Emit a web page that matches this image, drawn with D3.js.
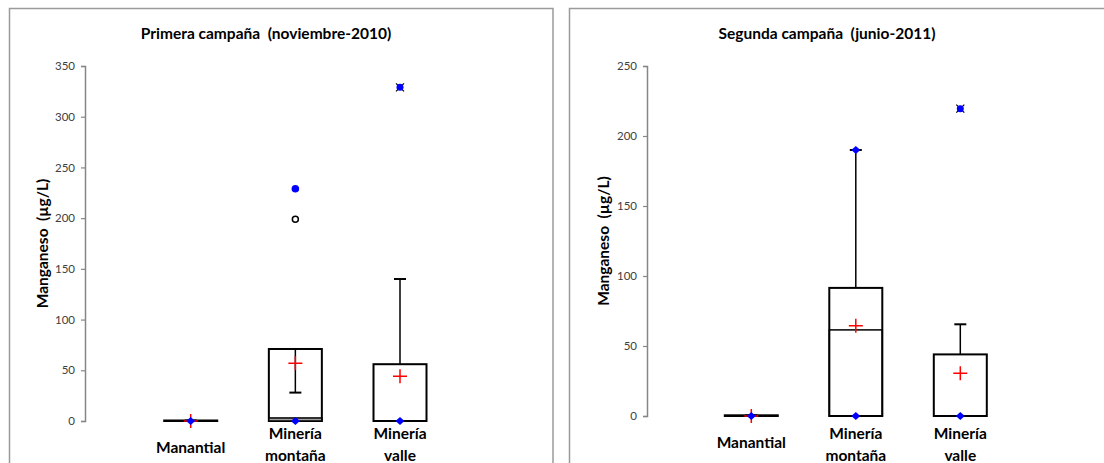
<!DOCTYPE html>
<html><head><meta charset="utf-8">
<script src="https://cdn.jsdelivr.net/npm/d3@7"></script>
<style>body{margin:0;background:#fff}svg{display:block}text{white-space:pre}</style>
</head><body>
<script>
// ---- data ----
const categories = ["Manantial", "Minería montaña", "Minería valle"];
const categoryLines = [["Manantial"], ["Minería", "montaña"], ["Minería", "valle"]];

// Panel 1: Primera campaña (noviembre-2010)
const p1Title = "Primera campaña  (noviembre-2010)";
const p1Ticks = [0, 50, 100, 150, 200, 250, 300, 350];
const p1Q1 = [0, 0, 0];
const p1Median = [0, 3, 0];
const p1Q3 = [0.5, 71, 56];
const p1Whisker = [0.5, 28, 140];
const p1Mean = [0, 57, 44];
const p1Diamonds = [[0], [0], [0]];
const p1Dots = [[], [229], []];
const p1Circles = [[], [199], []];
const p1Stars = [[], [], [329]];

// Panel 2: Segunda campaña (junio-2011)
const p2Title = "Segunda campaña  (junio-2011)";
const p2Ticks = [0, 50, 100, 150, 200, 250];
const p2Q1 = [0, 0, 0];
const p2Median = [0, 61.5, 0];
const p2Q3 = [0.5, 91.5, 44];
const p2Whisker = [0.5, 190, 65.5];
const p2Mean = [0, 64.5, 30.5];
const p2Diamonds = [[0], [0, 190], [0]];
const p2Dots = [[], [], []];
const p2Circles = [[], [], []];
const p2Stars = [[], [], [219.5]];

const yLabel = "Manganeso  (µg/L)";

// ---- drawing ----
const W = 1104, H = 463;
const svg = d3.select("body").append("svg").attr("width", W).attr("height", H);
const FONT = "Lato, 'Open Sans', sans-serif";

function panel(cfg) {
  const g = svg.append("g");
  g.append("rect").attr("x", cfg.frame[0]).attr("y", cfg.frame[1])
    .attr("width", cfg.frame[2]).attr("height", cfg.frame[3])
    .attr("fill", "#fff").attr("stroke", "#9a9a9a").attr("stroke-width", 1.5);

  const y = d3.scaleLinear().domain([0, cfg.ticks[cfg.ticks.length - 1]]).range(cfg.yRange);
  const x = d3.scalePoint().domain(categories).range(cfg.xRange);

  // title
  g.append("text").attr("x", cfg.titleX).attr("y", 38.5).attr("text-anchor", "middle")
    .attr("font-family", FONT).attr("font-weight", "bold").attr("font-size", 15.5)
    .attr("fill", "#000").text(cfg.title);

  // y axis
  const ax = g.append("g").attr("transform", `translate(${cfg.axisX},0)`)
    .call(d3.axisLeft(y).tickValues(cfg.ticks).tickSize(4).tickPadding(6).tickFormat(d3.format("d")));
  ax.select(".domain").attr("stroke", "#868686").attr("stroke-width", 1.5);
  ax.selectAll(".tick line").attr("stroke", "#868686").attr("stroke-width", 1.2);
  ax.selectAll(".tick text").attr("font-family", FONT).attr("font-size", 11.5).attr("fill", "#404040");

  // y label
  const ym = (cfg.yRange[0] + cfg.yRange[1]) / 2;
  g.append("text").attr("transform", `translate(${cfg.yLabelX},${ym}) rotate(-90)`)
    .attr("text-anchor", "middle").attr("dy", "0.35em")
    .attr("font-family", FONT).attr("font-weight", "bold").attr("font-size", 15.5)
    .attr("fill", "#000").text(yLabel);

  const bw = 53;
  categories.forEach((c, i) => {
    const cx = x(c);
    // whisker
    g.append("line").attr("x1", cx).attr("x2", cx)
      .attr("y1", y(cfg.q3[i])).attr("y2", y(cfg.whisker[i]))
      .attr("stroke", "#000").attr("stroke-width", 1.5);
    g.append("line").attr("x1", cx - 6).attr("x2", cx + 6)
      .attr("y1", y(cfg.whisker[i])).attr("y2", y(cfg.whisker[i]))
      .attr("stroke", "#000").attr("stroke-width", 2);
    // box
    g.append("rect").attr("x", cx - bw / 2).attr("y", y(cfg.q3[i]))
      .attr("width", bw).attr("height", Math.max(0, y(cfg.q1[i]) - y(cfg.q3[i])))
      .attr("fill", "none").attr("stroke", "#000").attr("stroke-width", 2);
    // median
    if (cfg.median[i] > cfg.q1[i]) {
      g.append("rect").attr("x", cx - bw / 2).attr("y", y(cfg.median[i]))
        .attr("width", bw).attr("height", y(cfg.q1[i]) - y(cfg.median[i]))
        .attr("fill", cfg.median[i] < 10 ? "#a0a0a0" : "none")
        .attr("stroke", "#000").attr("stroke-width", 1.5);
    }
    // mean (red plus)
    const my = y(cfg.mean[i]);
    g.append("path").attr("d", `M${cx - 7},${my}H${cx + 7}M${cx},${my - 7}V${my + 7}`)
      .attr("stroke", "#ff0000").attr("stroke-width", 1.5);
    // diamonds
    cfg.diamonds[i].forEach(v => {
      const dy = y(v);
      g.append("path").attr("d", `M${cx - 4.5},${dy}L${cx},${dy - 4}L${cx + 4.5},${dy}L${cx},${dy + 4}Z`)
        .attr("fill", "#0000ff");
    });
    cfg.dots[i].forEach(v => {
      g.append("circle").attr("cx", cx).attr("cy", y(v)).attr("r", 3.8).attr("fill", "#0000ff");
    });
    cfg.circles[i].forEach(v => {
      g.append("circle").attr("cx", cx).attr("cy", y(v)).attr("r", 3).attr("fill", "#fff")
        .attr("stroke", "#000").attr("stroke-width", 1.5);
    });
    cfg.stars[i].forEach(v => {
      const sy = y(v);
      g.append("path").attr("d", `M${cx - 4},${sy - 4}L${cx + 4},${sy + 4}M${cx - 4},${sy + 4}L${cx + 4},${sy - 4}`)
        .attr("stroke", "#000").attr("stroke-width", 1.2);
      g.append("circle").attr("cx", cx).attr("cy", sy).attr("r", 3.5).attr("fill", "#0000ff");
    });
    // category label
    const lines = categoryLines[i];
    const t = g.append("text").attr("text-anchor", "middle").attr("font-family", FONT)
      .attr("font-weight", "bold").attr("font-size", 15.5).attr("fill", "#000");
    if (lines.length === 1) {
      t.append("tspan").attr("x", cx).attr("y", cfg.singleY).text(lines[0]);
    } else {
      lines.forEach((l, k) => t.append("tspan").attr("x", cx).attr("y", 438.5 + k * 22).text(l));
    }
  });
}

panel({
  frame: [9.5, 8.5, 543.5, 470], title: p1Title, titleX: 266, ticks: p1Ticks,
  yRange: [421, 66], xRange: [190.7, 400], axisX: 85, yLabelX: 43, singleY: 452.5,
  q1: p1Q1, median: p1Median, q3: p1Q3, whisker: p1Whisker, mean: p1Mean,
  diamonds: p1Diamonds, dots: p1Dots, circles: p1Circles, stars: p1Stars
});
panel({
  frame: [569.5, 8.5, 560, 470], title: p2Title, titleX: 827, ticks: p2Ticks,
  yRange: [416, 66], xRange: [751.3, 960.3], axisX: 647, yLabelX: 604, singleY: 447.5,
  q1: p2Q1, median: p2Median, q3: p2Q3, whisker: p2Whisker, mean: p2Mean,
  diamonds: p2Diamonds, dots: p2Dots, circles: p2Circles, stars: p2Stars
});
</script>
</body></html>
